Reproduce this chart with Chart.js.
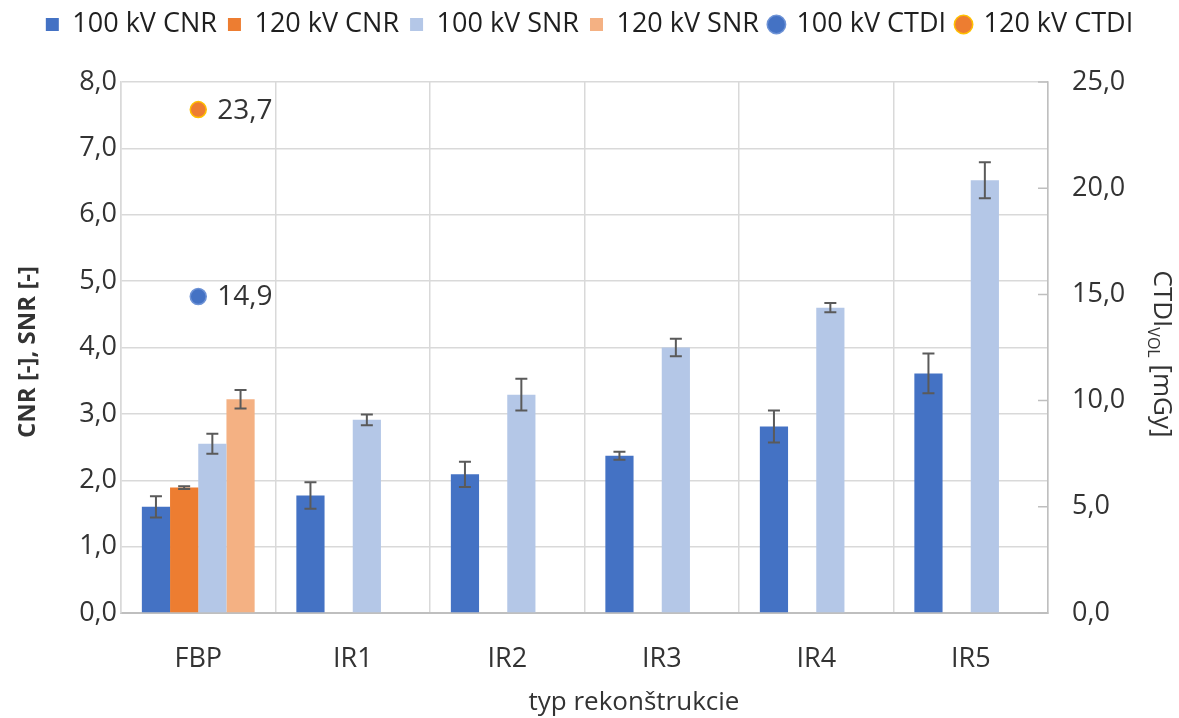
<!DOCTYPE html>
<html>
<head>
<meta charset="utf-8">
<script src="https://cdn.jsdelivr.net/npm/chart.js@4.4.1/dist/chart.umd.min.js"></script>
<style>
  html, body { margin: 0; padding: 0; background: #ffffff; }
  #wrap { width: 1179px; height: 718px; position: relative; }
  canvas { display: block; }
</style>
</head>
<body>
<div id="wrap"><canvas id="chart" width="1179" height="718"></canvas></div>
<script>
// Reconstruction types
const categories = ['FBP', 'IR1', 'IR2', 'IR3', 'IR4', 'IR5'];

// Contrast-to-noise ratio and its standard deviation
const cnr100 = [1.60, 1.77, 2.09, 2.37, 2.81, 3.61];
const cnr100Err = [0.16, 0.20, 0.19, 0.06, 0.24, 0.30];
const cnr120 = [1.89, null, null, null, null, null];
const cnr120Err = [0.02, null, null, null, null, null];

// Signal-to-noise ratio and its standard deviation
const snr100 = [2.55, 2.91, 3.29, 4.00, 4.60, 6.52];
const snr100Err = [0.15, 0.08, 0.24, 0.13, 0.07, 0.27];
const snr120 = [3.22, null, null, null, null, null];
const snr120Err = [0.14, null, null, null, null, null];

// CTDIvol dose [mGy]
const ctdi100 = [14.9, null, null, null, null, null];
const ctdi120 = [23.7, null, null, null, null, null];

// Axis ranges
const leftAxis = { min: 0, max: 8, step: 1 };
const rightAxis = { min: 0, max: 25, step: 5 };

const FONT = '"Open Sans", "Noto Sans", sans-serif';
const TEXT = '#333333';
const GRID = '#d9d9d9';
const AXIS = '#bfbfbf';

const fmt = v => v.toFixed(1).replace('.', ',');

// Standard-deviation whiskers on the bars
const errorBars = {
  id: 'errorBars',
  afterDatasetsDraw(chart) {
    const ctx = chart.ctx;
    chart.data.datasets.forEach((ds, i) => {
      if (!ds.errors) return;
      const meta = chart.getDatasetMeta(i);
      if (meta.hidden) return;
      const ys = chart.scales[meta.yAxisID];
      meta.data.forEach((el, j) => {
        const v = ds.data[j], e = ds.errors[j];
        if (v == null || e == null) return;
        const yt = ys.getPixelForValue(v + e);
        const yb = ys.getPixelForValue(v - e);
        const x = el.x, cap = 6;
        ctx.save();
        ctx.strokeStyle = '#5a5a5a';
        ctx.lineWidth = 2;
        ctx.beginPath();
        ctx.moveTo(x, yt); ctx.lineTo(x, yb);
        ctx.moveTo(x - cap, yt); ctx.lineTo(x + cap, yt);
        ctx.moveTo(x - cap, yb); ctx.lineTo(x + cap, yb);
        ctx.stroke();
        ctx.restore();
      });
    });
  }
};

// Value labels next to the dose points
const pointLabels = {
  id: 'pointLabels',
  afterDatasetsDraw(chart) {
    const ctx = chart.ctx;
    chart.data.datasets.forEach((ds, i) => {
      if (!ds.showValue) return;
      const meta = chart.getDatasetMeta(i);
      meta.data.forEach((el, j) => {
        const v = ds.data[j];
        if (v == null) return;
        ctx.save();
        ctx.font = '28px ' + FONT;
        ctx.fillStyle = TEXT;
        ctx.textAlign = 'left';
        ctx.textBaseline = 'middle';
        ctx.fillText(fmt(v), el.x + 19, el.y + 1);
        ctx.restore();
      });
    });
  }
};

// Axis titles and inner tick marks on the dose axis
const axisDecor = {
  id: 'axisDecor',
  beforeLayout(chart) {
    const lg = chart.legend;
    if (lg && !lg._fixedHeight) {
      const fit = lg.fit;
      lg.fit = function () { fit.call(this); this.height = 82; };
      lg._fixedHeight = true;
    }
  },
  afterDraw(chart) {
    const ctx = chart.ctx;
    const area = chart.chartArea;
    const y2 = chart.scales.y2;

    // short tick marks pointing into the plot from the right axis
    ctx.save();
    ctx.strokeStyle = AXIS;
    ctx.lineWidth = 1.5;
    ctx.beginPath();
    y2.ticks.forEach(t => {
      const y = y2.getPixelForValue(t.value);
      ctx.moveTo(area.right - 10, y);
      ctx.lineTo(area.right, y);
    });
    ctx.stroke();
    ctx.restore();

    ctx.save();
    ctx.fillStyle = TEXT;
    ctx.textBaseline = 'middle';
    ctx.textAlign = 'center';

    // x-axis title
    ctx.font = '26px ' + FONT;
    ctx.fillText('typ rekonštrukcie', 634, 703);

    // left axis title
    ctx.save();
    ctx.translate(28, 352);
    ctx.rotate(-Math.PI / 2);
    ctx.font = 'bold 24px ' + FONT;
    ctx.fillText('CNR [-], SNR [-]', 0, 0);
    ctx.restore();

    // right axis title with subscript
    ctx.save();
    ctx.translate(1161, 354);
    ctx.rotate(Math.PI / 2);
    const mainFont = '26px ' + FONT;
    const subFont = '16px ' + FONT;
    ctx.font = mainFont;
    const w1 = ctx.measureText('CTDI').width;
    const w3 = ctx.measureText(' [mGy]').width;
    ctx.font = subFont;
    const w2 = ctx.measureText('VOL').width;
    let x = -(w1 + w2 + w3) / 2;
    ctx.textAlign = 'left';
    ctx.font = mainFont;
    ctx.fillText('CTDI', x, 0); x += w1;
    ctx.font = subFont;
    ctx.fillText('VOL', x, 8); x += w2;
    ctx.font = mainFont;
    ctx.fillText(' [mGy]', x, 0);
    ctx.restore();

    ctx.restore();
  }
};

const barDefaults = { yAxisID: 'y', barPercentage: 1.0, categoryPercentage: 0.73, borderWidth: 0 };

new Chart(document.getElementById('chart'), {
  type: 'bar',
  data: {
    labels: categories,
    datasets: [
      Object.assign({ label: '100 kV CNR', data: cnr100, errors: cnr100Err, backgroundColor: '#4472C4' }, barDefaults),
      Object.assign({ label: '120 kV CNR', data: cnr120, errors: cnr120Err, backgroundColor: '#ED7D31' }, barDefaults),
      Object.assign({ label: '100 kV SNR', data: snr100, errors: snr100Err, backgroundColor: '#B4C7E7' }, barDefaults),
      Object.assign({ label: '120 kV SNR', data: snr120, errors: snr120Err, backgroundColor: '#F4B183' }, barDefaults),
      {
        type: 'line', label: '100 kV CTDI', data: ctdi100, yAxisID: 'y2', showLine: false,
        showValue: true, pointStyle: 'circle', pointRadius: 8, pointBorderWidth: 1.5,
        backgroundColor: '#4472C4', borderColor: '#6E93D6'
      },
      {
        type: 'line', label: '120 kV CTDI', data: ctdi120, yAxisID: 'y2', showLine: false,
        showValue: true, pointStyle: 'circle', pointRadius: 8, pointBorderWidth: 1.5,
        backgroundColor: '#ED7D31', borderColor: '#FFC000'
      }
    ]
  },
  options: {
    responsive: false,
    maintainAspectRatio: false,
    animation: false,
    devicePixelRatio: 1,
    layout: { padding: { left: 0, right: 0, top: 0, bottom: 0 } },
    plugins: {
      tooltip: { enabled: false },
      legend: {
        position: 'top',
        align: 'center',
        labels: {
          usePointStyle: true,
          boxWidth: 13,
          boxHeight: 13,
          padding: 11,
          color: '#1f1f1f',
          font: { family: FONT, size: 27 },
          generateLabels(chart) {
            const items = Chart.defaults.plugins.legend.labels.generateLabels(chart);
            items.forEach(it => {
              const ds = chart.data.datasets[it.datasetIndex];
              if (ds.type === 'line') {
                it.pointStyle = 'circle';
                it.fillStyle = ds.backgroundColor;
                it.strokeStyle = ds.borderColor;
                it.lineWidth = 1.5;
              } else {
                it.pointStyle = 'rect';
                it.lineWidth = 0;
              }
            });
            return items;
          }
        }
      }
    },
    scales: {
      x: {
        type: 'category',
        offset: true,
        grid: { offset: true, color: GRID, lineWidth: 1.5, drawTicks: false },
        border: { display: true, color: AXIS, width: 2 },
        ticks: { color: TEXT, font: { family: FONT, size: 27 }, padding: 30, maxRotation: 0 },
        afterFit(s) { s.height = 105; }
      },
      y: {
        position: 'left',
        min: leftAxis.min, max: leftAxis.max,
        grid: { color: GRID, lineWidth: 1.5, drawTicks: false },
        border: { display: true, color: GRID, width: 1.5 },
        ticks: { stepSize: leftAxis.step, color: TEXT, font: { family: FONT, size: 27 }, padding: 4, callback: v => fmt(v) },
        afterFit(s) { s.width = 121; }
      },
      y2: {
        position: 'right',
        min: rightAxis.min, max: rightAxis.max,
        grid: { drawOnChartArea: false, drawTicks: false },
        border: { display: true, color: AXIS, width: 1.5 },
        ticks: { stepSize: rightAxis.step, color: TEXT, font: { family: FONT, size: 27 }, padding: 24, callback: v => fmt(v) },
        afterFit(s) { s.width = 131; }
      }
    }
  },
  plugins: [errorBars, pointLabels, axisDecor]
});
</script>
</body>
</html>
